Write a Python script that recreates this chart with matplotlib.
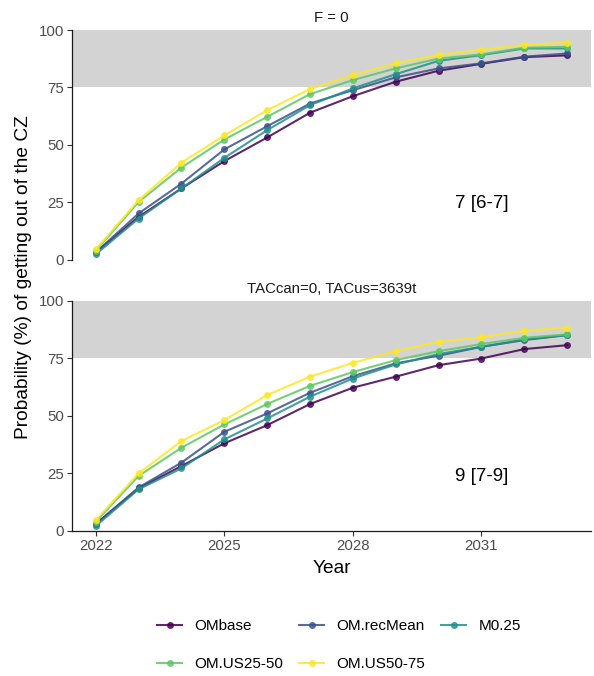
import numpy as np
import matplotlib
matplotlib.use('Agg')
import matplotlib.pyplot as plt
from matplotlib.lines import Line2D

plt.rcParams['font.family'] = ['Liberation Sans', 'DejaVu Sans']

years = np.arange(2022, 2034)
scenarios = ['OMbase', 'OM.recMean', 'M0.25', 'OM.US25-50', 'OM.US50-75']
colors = ['#440154', '#3B528B', '#21908C', '#5DC863', '#FDE725']
panel_titles = ['F = 0', 'TACcan=0, TACus=3639t']
panel_labels = ['7 [6-7]', '9 [7-9]']

# panel 1: F = 0
f0 = {
    'OMbase':     [3.1, 18.6, 31.0, 42.9, 53.2, 64.0, 71.2, 77.5, 82.3, 85.3, 88.2, 89.0],
    'OM.recMean': [3.1, 20.1, 33.1, 48.0, 58.1, 68.0, 73.8, 79.4, 83.3, 85.5, 88.4, 89.8],
    'M0.25':      [2.3, 17.9, 31.0, 44.3, 56.4, 67.3, 74.6, 80.8, 86.6, 89.1, 92.0, 92.0],
    'OM.US25-50': [3.8, 25.1, 40.1, 52.3, 62.2, 72.1, 78.2, 83.3, 87.6, 89.4, 92.3, 92.7],
    'OM.US50-75': [4.4, 25.9, 42.2, 54.1, 65.1, 74.3, 80.4, 85.5, 89.2, 91.4, 93.5, 94.5],
}
# panel 2: TACcan=0, TACus=3639t
tac = {
    'OMbase':     [2.9, 18.4, 28.1, 38.0, 45.9, 55.1, 62.2, 67.0, 72.0, 74.9, 79.0, 80.7],
    'OM.recMean': [2.9, 18.8, 29.6, 43.0, 51.0, 60.0, 67.2, 72.8, 76.1, 80.0, 82.9, 85.1],
    'M0.25':      [2.0, 18.0, 27.1, 39.7, 48.8, 58.3, 66.2, 72.3, 76.8, 80.0, 83.2, 85.1],
    'OM.US25-50': [3.9, 23.8, 36.1, 46.2, 55.1, 63.0, 69.0, 74.2, 78.1, 81.2, 83.9, 85.4],
    'OM.US50-75': [4.6, 24.9, 39.0, 48.1, 59.0, 67.0, 73.0, 78.1, 82.2, 84.1, 87.0, 88.3],
}
panels = [f0, tac]
label_y = [24.5, 23.5]

fig = plt.figure(figsize=(5.94, 6.76), dpi=100)
left, width = 0.1215, 0.873
ax_top = fig.add_axes([left, 0.616, width, 0.3395])
ax_bot = fig.add_axes([left, 0.215, width, 0.340])
axes = [ax_top, ax_bot]

xlo, xhi = years[0] - 0.55, years[-1] + 0.55
for i, ax in enumerate(axes):
    data = panels[i]
    ax.axhspan(75, 100, color='#d3d3d3', lw=0, zorder=0)
    for name, col in zip(scenarios, colors):
        ax.plot(years, data[name], color=col, lw=1.5, alpha=0.85,
                marker='o', ms=5, mew=0, zorder=2)
    ax.text(2031, label_y[i], panel_labels[i], ha='center', va='center',
            fontsize=13.5, color='black')
    ax.set_title(panel_titles[i], fontsize=10.8, color='#1a1a1a', pad=5.5)
    ax.set_xlim(xlo, xhi)
    ax.set_ylim(0, 100)
    ax.set_yticks([0, 25, 50, 75, 100])
    ax.set_xticks([2022, 2025, 2028, 2031])
    ax.tick_params(axis='both', labelsize=10.8, colors='#333333',
                   length=3.5, width=0.8, pad=2.5)
    ax.tick_params(axis='both', labelcolor='#4d4d4d')
    for s in ['top', 'right']:
        ax.spines[s].set_visible(False)
    ax.spines['left'].set_linewidth(0.9)
    ax.spines['left'].set_color('#1a1a1a')
    ax.spines['bottom'].set_linewidth(0.9)
    ax.spines['bottom'].set_color('#1a1a1a')

ax_top.spines['bottom'].set_visible(False)
ax_top.tick_params(axis='x', bottom=False, labelbottom=False)

ax_bot.set_xlabel('Year', fontsize=13.8, labelpad=5)
fig.text(0.040, 0.590, 'Probability (%) of getting out of the CZ',
         rotation=90, ha='center', va='center', fontsize=13.8)

handles = [Line2D([0], [0], color=c, lw=1.5, alpha=0.85, marker='o', ms=5, mew=0)
           for c in colors]
order = [0, 3, 1, 4, 2]
fig.legend([handles[k] for k in order], [scenarios[k] for k in order],
           ncol=3, loc='center', bbox_to_anchor=(0.571, 0.0455),
           frameon=False, fontsize=11, handlelength=1.63, handletextpad=0.8,
           columnspacing=1.05, labelspacing=1.6)

fig.savefig('out.png', dpi=100)
